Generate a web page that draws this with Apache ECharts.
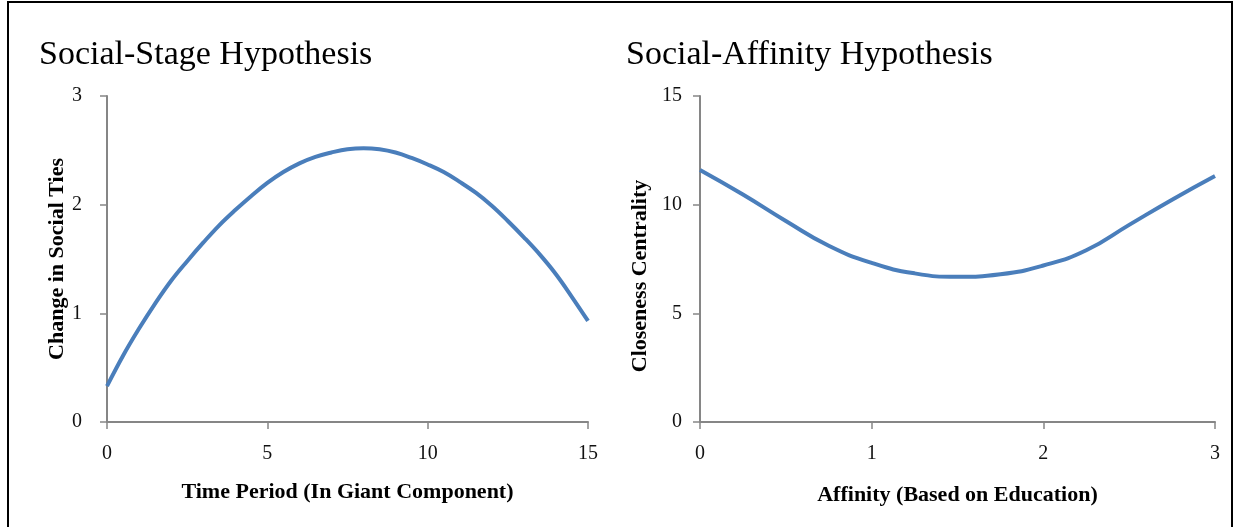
<!DOCTYPE html>
<html>
<head>
<meta charset="utf-8">
<script src="https://cdn.jsdelivr.net/npm/echarts@6/dist/echarts.min.js"></script>
<style>
  html, body { margin: 0; padding: 0; background: #fff; }
  #chart { width: 1239px; height: 527px; }
</style>
</head>
<body>
<div id="chart"></div>
<script>
// left panel: social-stage
const stageX = [0, 0.5, 1, 1.5, 2, 2.5, 3, 3.5, 4, 4.5, 5, 5.5, 6, 6.5, 7, 7.5, 8,
  8.5, 9, 9.5, 10, 10.5, 11, 11.5, 12, 12.5, 13, 13.5, 14, 14.5, 15]
const stageY = [0.33, 0.61, 0.86, 1.09, 1.30, 1.48, 1.65, 1.81, 1.95, 2.08, 2.20, 2.30, 2.38, 2.44, 2.48, 2.51, 2.52,
  2.51, 2.48, 2.43, 2.37, 2.30, 2.21, 2.11, 1.99, 1.85, 1.70, 1.54, 1.36, 1.15, 0.93]

// right panel: social-affinity
const affinityX = [0, 0.25, 0.5, 0.75, 1, 1.25, 1.5, 1.75, 2, 2.25, 2.5, 2.75, 3]
const affinityY = [11.6, 10.47, 9.25, 8.11, 7.32, 6.84, 6.68, 6.8, 7.2, 7.9, 9.07, 10.23, 11.32]

const serif = '"Liberation Serif", "DejaVu Serif", serif'
const axisGray = '#868686'
const lineBlue = '#4a7ebb'

function axisBase(min, max, interval, margin) {
  return {
    type: 'value', min: min, max: max, interval: interval,
    splitLine: { show: false },
    axisLine: { show: true, lineStyle: { color: axisGray, width: 2 } },
    axisTick: { show: true, length: 7, lineStyle: { color: axisGray, width: 1.5 } },
    axisLabel: { color: '#111', fontFamily: serif, fontSize: 20, margin: margin }
  }
}

const nameStyle = { fontFamily: serif, fontSize: 22, fontWeight: 'bold', color: '#000' }

const chart = echarts.init(document.getElementById('chart'))
chart.setOption({
  animation: false,
  title: [
    { text: 'Social-Stage Hypothesis', left: 34, top: 33,
      textStyle: { fontFamily: serif, fontSize: 34, fontWeight: 'normal', color: '#000' } },
    { text: 'Social-Affinity Hypothesis', left: 621, top: 33,
      textStyle: { fontFamily: serif, fontSize: 34, fontWeight: 'normal', color: '#000' } }
  ],
  graphic: [
    { type: 'rect', shape: { x: 8, y: 2, width: 1224, height: 560 },
      style: { fill: 'none', stroke: '#000', lineWidth: 2 }, silent: true }
  ],
  grid: [
    { left: 107, top: 96, width: 481, height: 326 },
    { left: 700, top: 96, width: 515, height: 326 }
  ],
  xAxis: [
    Object.assign(axisBase(0, 15, 5, 22), {
      gridIndex: 0,
      name: 'Time Period (In Giant Component)', nameLocation: 'middle', nameGap: 59,
      nameTextStyle: nameStyle
    }),
    Object.assign(axisBase(0, 3, 1, 22), {
      gridIndex: 1,
      name: 'Affinity (Based on Education)', nameLocation: 'middle', nameGap: 62,
      nameTextStyle: nameStyle
    })
  ],
  yAxis: [
    Object.assign(axisBase(0, 3, 1, 25), {
      gridIndex: 0,
      name: 'Change in Social Ties', nameLocation: 'middle', nameGap: 36,
      nameTextStyle: nameStyle
    }),
    Object.assign(axisBase(0, 15, 5, 18), {
      gridIndex: 1,
      name: 'Closeness Centrality', nameLocation: 'middle', nameGap: 49,
      nameTextStyle: Object.assign({}, nameStyle, { padding: [0, 34, 0, 0] })
    })
  ],
  series: [
    {
      type: 'line', xAxisIndex: 0, yAxisIndex: 0, smooth: 0.4, showSymbol: false,
      data: stageX.map((x, i) => [x, stageY[i]]),
      lineStyle: { color: lineBlue, width: 4 }
    },
    {
      type: 'line', xAxisIndex: 1, yAxisIndex: 1, smooth: 0.5, showSymbol: false,
      data: affinityX.map((x, i) => [x, affinityY[i]]),
      lineStyle: { color: lineBlue, width: 4 }
    }
  ]
})
</script>
</body>
</html>
